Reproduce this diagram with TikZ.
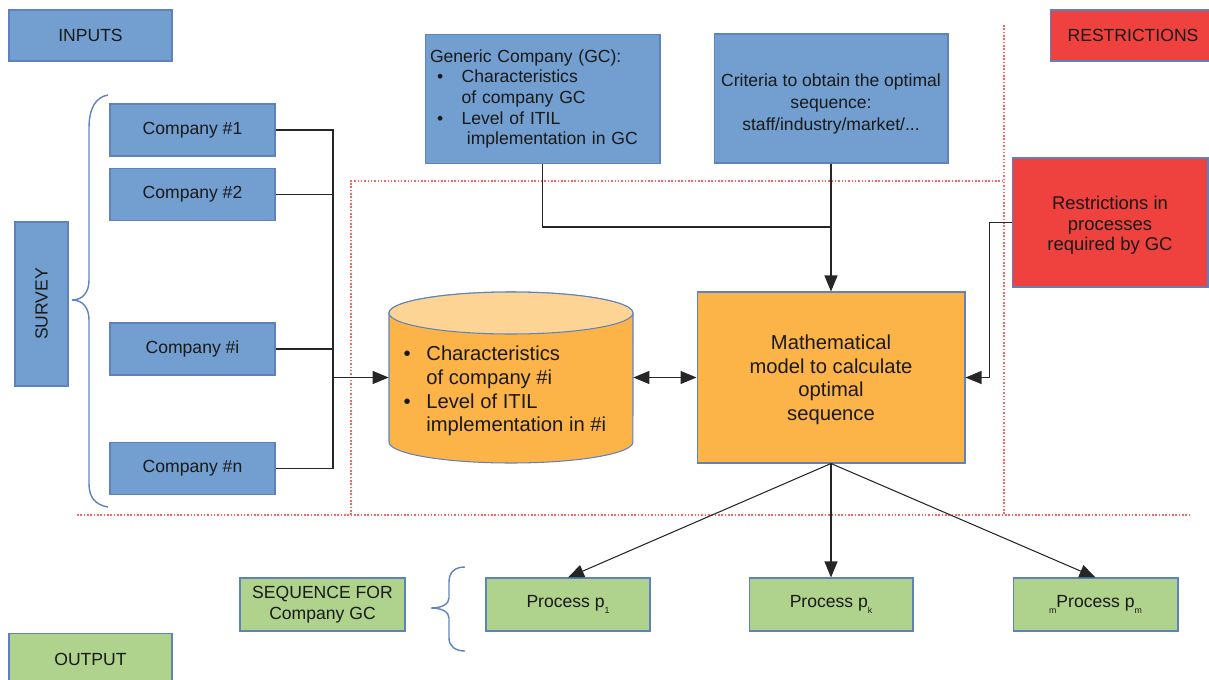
\documentclass[tikz,border=0pt]{standalone}
\usepackage{fontspec}
\setmainfont{Liberation Sans}
\usetikzlibrary{arrows.meta, positioning}

\newcommand{\lowidx}[1]{\raisebox{-0.6ex}{\tiny #1}}

\begin{document}
\begin{tikzpicture}[
    x=0.02cm, y=-0.02cm,
    >={Triangle[length=3.2mm, width=2.6mm]},
    font=\fontsize{10}{12}\selectfont,
    box/.style={draw=bordc, line width=0.6pt, align=center, text=txtc, inner sep=2pt},
    bbox/.style={box, fill=cblu},
    rbox/.style={box, fill=cred},
    gbox/.style={box, fill=cgrn},
    obox/.style={box, fill=corg},
    link/.style={draw=black!85, line width=0.6pt},
    arr/.style={link, ->},
    darr/.style={link, <->},
    sep/.style={draw=cdot, densely dotted, line width=0.9pt},
    curly/.style={draw=bordc, line width=0.8pt},
    bigfont/.style={font=\fontsize{11.5}{13.5}\selectfont}
]

\definecolor{cblu}{RGB}{114,159,207}
\definecolor{cred}{RGB}{239,65,61}
\definecolor{corg}{RGB}{252,180,72}
\definecolor{corgl}{RGB}{254,212,148}
\definecolor{cgrn}{RGB}{175,210,140}
\definecolor{bordc}{RGB}{95,130,190}
\definecolor{cdot}{RGB}{255,100,100}
\definecolor{txtc}{RGB}{25,25,25}

\useasboundingbox (0,0) rectangle (1209,679);

% dotted frames
\draw[sep] (77,515) -- (1190,515);
\draw[sep] (351,515) -- (351,181) -- (1004,181);
\draw[sep] (1004,25) -- (1004,515);

% headers
\node[bbox, minimum width=3.26cm, minimum height=1.02cm] (inputs) at (90.5,35.5) {INPUTS};
\node[rbox, minimum width=3.3cm, minimum height=1.02cm] (restr) at (1133,35.5) {RESTRICTIONS};
\node[gbox, minimum width=3.26cm, minimum height=1.02cm] (output) at (90.5,659) {OUTPUT};

% survey
\node[bbox, rotate=90, minimum width=3.28cm, minimum height=1.06cm] (survey) at (41.5,304) {SURVEY};
\draw[curly] (108,95) .. controls (96,97) and (89,108) .. (89,128) -- (89,280) .. controls (89,292) and (83,300) .. (72,300) .. controls (83,300) and (89,308) .. (89,320) -- (89,484) .. controls (89,498) and (96,505) .. (108,507);

\node[bbox, minimum width=3.3cm, minimum height=1.04cm] (comp1) at (192.5,130) {Company \#1};
\node[bbox, minimum width=3.3cm, minimum height=1.04cm] (comp2) at (192.5,194.5) {Company \#2};
\node[bbox, minimum width=3.3cm, minimum height=1.04cm] (compi) at (192.5,349) {Company \#i};
\node[bbox, minimum width=3.3cm, minimum height=1.04cm] (compn) at (192.5,468.5) {Company \#n};

% generic company and criteria
\node[bbox, minimum width=4.7cm, minimum height=2.58cm, text width=4.5cm, align=left, font=\fontsize{10}{11.7}\selectfont] (gc) at (542.5,99) {%
    Generic Company (GC):\\
    \hspace*{4pt}\makebox[14pt][l]{\textbullet}Characteristics\\
    \hspace*{18pt}of company GC\\
    \hspace*{4pt}\makebox[14pt][l]{\textbullet}Level of ITIL\\
    \hspace*{21pt}implementation in GC};
\node[bbox, minimum width=4.68cm, minimum height=2.58cm, font=\fontsize{10}{12.5}\selectfont] (crit) at (831,98.5) {\raisebox{-3pt}[\height][\depth]{\begin{tabular}{@{}c@{}}Criteria to obtain the optimal\\sequence:\\staff/industry/market/...\end{tabular}}};
\node[rbox, minimum width=3.92cm, minimum height=2.58cm, font=\fontsize{10.5}{11.5}\selectfont] (restrgc) at (1110,222.5) {\raisebox{-2pt}[\height][\depth]{\begin{tabular}{@{}c@{}}Restrictions in\\processes\\required by GC\end{tabular}}};

% database of companies
\draw[draw=bordc, fill=corg, line width=0.6pt] (389,313) -- (389,442) arc[start angle=180, end angle=360, x radius=2.44cm, y radius=0.42cm] -- (633,313) arc[start angle=0, end angle=180, x radius=2.44cm, y radius=0.42cm] -- cycle;
\draw[draw=bordc, fill=corgl, line width=0.6pt] (511,313) ellipse [x radius=2.44cm, y radius=0.42cm];
\node[bigfont, text=txtc, inner sep=0pt, minimum width=4.88cm, minimum height=3.42cm] (db) at (511,377.5) {\raisebox{-8pt}[\height][\depth]{%
    \begin{tabular}{@{}l@{}}
    \makebox[13pt][l]{\textbullet}Characteristics\\
    \hspace*{13pt}of company \#i\\
    \makebox[13pt][l]{\textbullet}Level of ITIL\\
    \hspace*{13pt}implementation in \#i
    \end{tabular}\hspace*{7pt}}};

\node[obox, bigfont, minimum width=5.36cm, minimum height=3.42cm] (math) at (831,377.5) {\raisebox{-1.5pt}[\height][\depth]{\begin{tabular}{@{}c@{}}Mathematical\\model to calculate\\optimal\\sequence\end{tabular}}};

% output sequence
\node[gbox, minimum width=3.3cm, minimum height=1.06cm] (seq) at (322.5,604.5) {SEQUENCE FOR\\Company GC};
\draw[curly] (465,567) .. controls (455,567) and (449,572) .. (449,582) -- (449,598) .. controls (449,604) and (442,608) .. (431,608) .. controls (442,608) and (449,612) .. (449,618) -- (449,638) .. controls (449,646) and (455,651) .. (465,651);
\node[gbox, minimum width=3.28cm, minimum height=1.06cm] (p1) at (568,604.5) {Process p\lowidx{1}};
\node[gbox, minimum width=3.28cm, minimum height=1.06cm] (pk) at (831,604.5) {Process p\lowidx{k}};
\node[gbox, minimum width=3.3cm, minimum height=1.06cm] (pm) at (1095.5,604.5) {\lowidx{m}Process p\lowidx{m}};

% connectors
\coordinate (bus) at (333,377.5);
\draw[link] (comp1.east) -| (bus);
\draw[link] (comp2.east) -| (bus);
\draw[link] (compi.east) -| (bus);
\draw[link] (compn.east) -| (bus);
\draw[arr] (bus) -- (db.west);
\draw[darr] (db.east) -- (math.west);

\coordinate (gcjoin) at (831,227);
\draw[link] (gc.south) |- (gcjoin);
\draw[arr] (crit.south) -- (math.north);
\draw[arr] (restrgc.west) -- ++(-22,0) |- (math.east);

\draw[arr] (math.south) -- (p1.north);
\draw[arr] (math.south) -- (pk.north);
\draw[arr] (math.south) -- (pm.north);

\end{tikzpicture}
\end{document}
